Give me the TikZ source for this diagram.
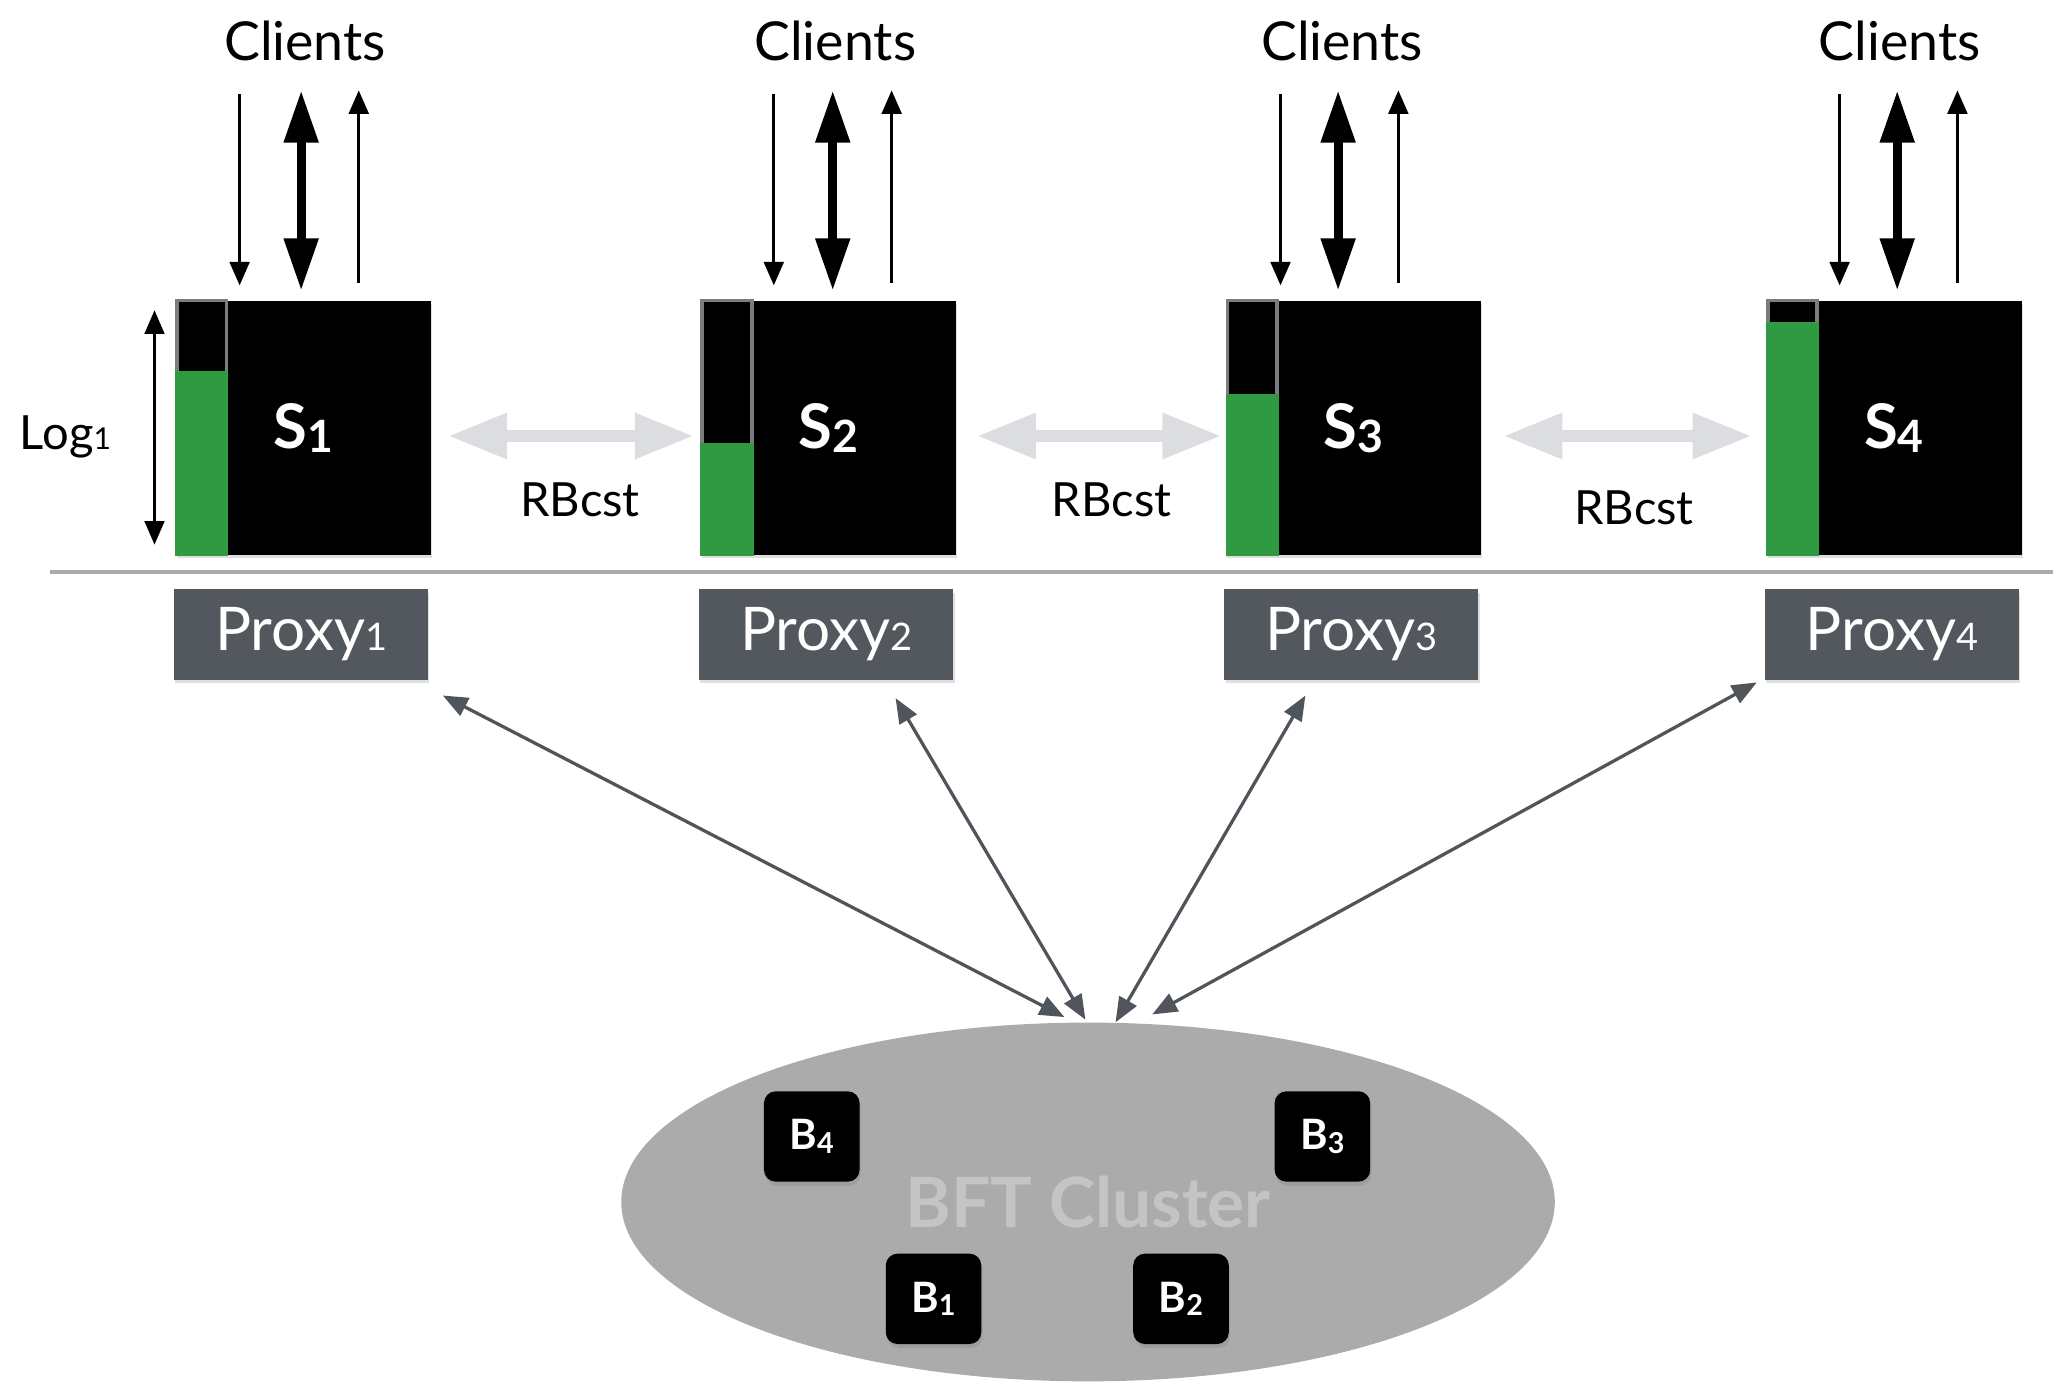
\documentclass[tikz,border=0pt]{standalone}
\usepackage{fontspec}
\setmainfont{Lato}
\usetikzlibrary{arrows.meta,shadows,shapes.geometric,calc}
\definecolor{logG}{HTML}{2F9A42}
\definecolor{logFrame}{HTML}{7A7C80}
\definecolor{proxyC}{HTML}{53575E}
\definecolor{clusterC}{HTML}{ABABAB}
\definecolor{bftText}{HTML}{C4C4C4}
\definecolor{rbC}{HTML}{DCDDE0}
\definecolor{sepC}{HTML}{A9ABAA}
\definecolor{pArrC}{HTML}{50545B}
\newcommand\mysub[3][0pt]{\raisebox{#1}{\fontsize{#2}{#2}\selectfont #3}}
\begin{document}
\begin{tikzpicture}[x=1pt,y=-1pt,
  serverbox/.style={fill=black, minimum width=195pt, minimum height=194pt, inner sep=0pt,
    text=white, font=\fontsize{47}{50}\selectfont\bfseries,
    drop shadow={shadow xshift=1pt, shadow yshift=-2pt, opacity=0.25}},
  proxybox/.style={fill=proxyC, minimum width=194pt, minimum height=69pt, inner sep=0pt,
    text=white, font=\fontsize{46}{50}\selectfont,
    drop shadow={shadow xshift=1pt, shadow yshift=-3pt, opacity=0.25}},
  bbox/.style={fill=black, rounded corners=9pt, minimum width=73pt, minimum height=69pt, inner sep=0pt,
    text=white, font=\fontsize{32}{34}\selectfont\bfseries,
    drop shadow={shadow xshift=1pt, shadow yshift=-3pt, opacity=0.3}},
  clabel/.style={font=\fontsize{41}{44}\selectfont},
  rblabel/.style={font=\fontsize{36}{40}\selectfont},
  thintip/.tip={Triangle[length=18pt,width=15pt]},
  thicktip/.tip={Triangle[length=40pt,width=25pt]},
  rbtip/.tip={Triangle[length=45pt,width=33pt]},
  ptip/.tip={Triangle[length=19pt,width=15pt]},
  thinarr/.style={line width=2.5pt, black},
  thickarr/.style={line width=7pt, black, thicktip-thicktip},
  rbarr/.style={line width=9pt, rbC, rbtip-rbtip},
  parr/.style={line width=2.5pt, pArrC, ptip-ptip},
  sepline/.style={line width=3pt, sepC}]
\useasboundingbox (0,0) rectangle (1568,1056);

% separator
\draw[sepline] (38,437) -- (1568,437);

% cluster
\node[ellipse, fill=clusterC, minimum width=713pt, minimum height=274pt, inner sep=0pt,
  text=bftText, font=\fontsize{53}{56}\selectfont\bfseries] (bft) at (831,918) {BFT Cluster};

% servers
\foreach \i/\L/\g/\cx/\a/\b/\c in {1/134/283/99/49/96/140, 2/535/338/103/56/101/146,
    3/936/301/89/42/86/132, 4/1349/246/102/56/100/146}{
  \node[serverbox] (s\i) at ({\L+97.5},327) {S\mysub[-3pt]{34}{\i}};
  \draw[fill=black, draw=logFrame, line width=3pt] ({\L+1.5},229.5) rectangle ({\L+39},423);
  \fill[logG] (\L,\g) rectangle ({\L+40.5},424.5);
  \node[clabel] (c\i) at ({\L+\cx},31) {Clients};
  \draw[thinarr, -thintip] ({\L+\a},72) -- ({\L+\a},218);
  \draw[thickarr] ({\L+\b},69) -- ({\L+\b},222);
  \draw[thinarr, -thintip] ({\L+\c},216) -- ({\L+\c},69);
  \node[proxybox] (p\i) at ({\L+96},484.5) {Proxy\mysub{29}{\i}};
}

% log length arrow and label
\draw[thinarr, line width=2pt, thintip-thintip] (118,237) -- (118,416);
\node[rblabel] (loglbl) at (50,334) {Log\mysub{23}{1}};

% RBcst arrows
\draw[rbarr] ([xshift=13pt,yshift=-6pt]s1.east) -- ([xshift=-5pt,yshift=-6pt]s2.west);
\draw[rbarr] ([xshift=16pt,yshift=-6pt]s2.east) -- ([xshift=-3pt,yshift=-6pt]s3.west);
\draw[rbarr] ([xshift=17pt,yshift=-6pt]s3.east) -- ([xshift=-11pt,yshift=-6pt]s4.west);
\node[rblabel] (rb1) at (443,382) {RBcst};
\node[rblabel] (rb2) at (849,382) {RBcst};
\node[rblabel] (rb3) at (1248,388) {RBcst};

% BFT replicas
\node[bbox] (b4) at (620,868) {B\mysub[-3pt]{22}{4}};
\node[bbox] (b3) at (1010,868) {B\mysub[-3pt]{22}{3}};
\node[bbox] (b1) at (713,992) {B\mysub[-3pt]{22}{1}};
\node[bbox] (b2) at (902,992) {B\mysub[-3pt]{22}{2}};

% proxy <-> cluster
\coordinate (e1) at ([xshift=-18pt,yshift=4pt]bft.north);
\coordinate (e2) at ([xshift=-2pt,yshift=2pt]bft.north);
\coordinate (e3) at ([xshift=21pt,yshift=0pt]bft.north);
\coordinate (e4) at ([xshift=49pt,yshift=6pt]bft.north);
\draw[parr] ([xshift=11pt,yshift=-12pt]p1.south east) -- (e1);
\draw[parr] ([xshift=53pt,yshift=-14pt]p2.south) -- (e2);
\draw[parr] ([xshift=-35pt,yshift=-12pt]p3.south) -- (e3);
\draw[parr] ([xshift=-6pt,yshift=-2pt]p4.south west) -- (e4);
\end{tikzpicture}
\end{document}
